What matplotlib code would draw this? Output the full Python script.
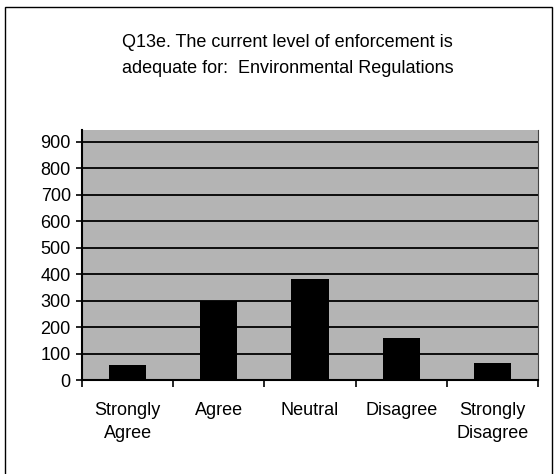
import matplotlib
matplotlib.use("Agg")
import matplotlib.pyplot as plt
from matplotlib.patches import Rectangle

# --- Données ---
categories = ["Strongly\nAgree", "Agree", "Neutral", "Disagree", "Strongly\nDisagree"]
counts = [55, 300, 380, 160, 65]
yticks = [0, 100, 200, 300, 400, 500, 600, 700, 800, 900]
title = "Q13e. The current level of enforcement is\nadequate for:  Environmental Regulations"

plt.rcParams["font.family"] = ["Liberation Sans", "DejaVu Sans"]

fig = plt.figure(figsize=(5.55, 4.74), dpi=100)
ax = fig.add_axes([0.1477, 0.1983, 0.8217, 0.5274])

# cadre extérieur du graphique
fig.patches.append(Rectangle((0.009, -0.02), 0.986, 1.005, transform=fig.transFigure,
                             fill=False, edgecolor="black", linewidth=1.0))

x = list(range(len(categories)))
ax.set_facecolor("#b4b4b4")
ax.bar(x, counts, width=0.41, color="black", zorder=3)

ax.set_xlim(-0.5, len(categories) - 0.5)
ax.set_ylim(0, 945)
ax.set_yticks(yticks)
ax.set_yticklabels([str(v) for v in yticks], fontsize=13)
ax.yaxis.grid(True, color="black", linewidth=1.3, zorder=1)
ax.set_axisbelow(True)

ax.set_xticks(x)
ax.set_xticklabels(categories, fontsize=13, linespacing=1.45)
ax.tick_params(axis="x", which="major", length=0, pad=16)
ax.set_xticks([i - 0.5 for i in range(len(categories) + 1)], minor=True)
ax.tick_params(axis="x", which="minor", length=5, width=1.2, direction="out")
ax.tick_params(axis="y", length=4, width=1.2, pad=4)

for side in ["left", "bottom"]:
    ax.spines[side].set_linewidth(1.5)
ax.spines["right"].set_linewidth(0.8)
ax.spines["right"].set_color("#444444")
ax.spines["top"].set_visible(False)

fig.text(0.518, 0.882, title, ha="center", va="center", fontsize=13, linespacing=1.7)

fig.savefig("out.png", dpi=100)
plt.close(fig)
